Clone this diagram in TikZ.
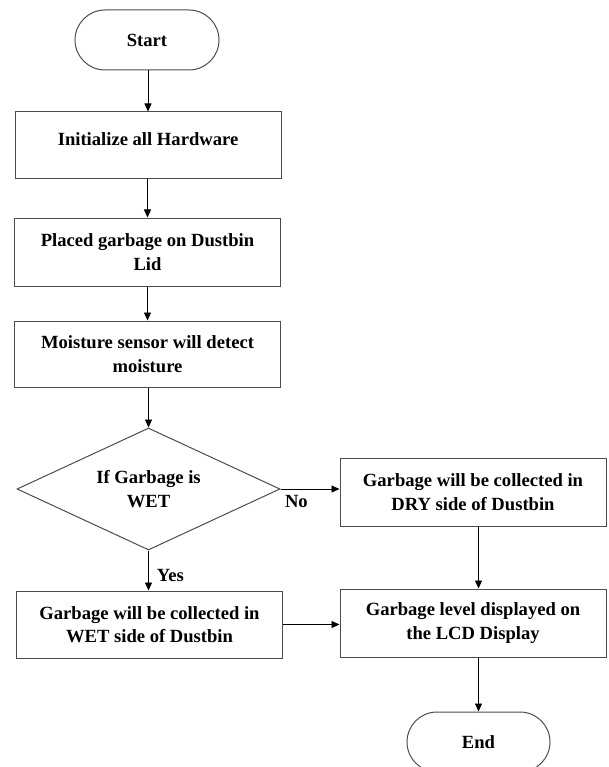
\documentclass[tikz,border=0pt]{standalone}
\usepackage{fontspec}
\setmainfont{Liberation Serif}
\usetikzlibrary{arrows.meta,positioning,shapes.geometric,shapes.misc}

\begin{document}
\begin{tikzpicture}[x=1pt,y=-1pt,>={Triangle[length=8pt,width=7pt]},
    every node/.style={font=\fontsize{18.6}{23.5}\selectfont\bfseries,align=center},
    procbox/.style={draw=black!70,line width=1pt,minimum width=266pt,minimum height=67pt,inner sep=0pt},
    termbox/.style={draw=black!70,line width=1pt,rounded rectangle,minimum width=144pt,minimum height=60pt,inner sep=0pt},
    decbox/.style={draw=black!70,line width=1pt,diamond,aspect=2.2,minimum width=263pt,minimum height=122pt,inner sep=0pt},
    flow/.style={->,line width=0.8pt}]
    \useasboundingbox (0,0) rectangle (608,767);
    % left column
    \node[termbox] (start) at (147,40) {Start};
    \node[procbox,text depth=13pt] (init) at (148,145.5) {Initialize all Hardware};
    \node[procbox,minimum height=68pt] (placed) at (147.5,252) {Placed garbage on Dustbin\\Lid};
    \node[procbox,minimum height=66pt] (moist) at (147.5,354) {Moisture sensor will detect\\moisture};
    \node[decbox] (dec) at (148.5,489) {If Garbage is\\WET};
    \node[procbox] (wet) at (149.5,624.5) {Garbage will be collected in\\WET side of Dustbin};
    % right column
    \node[procbox,minimum height=68pt] (dry) at (473,492) {Garbage will be collected in\\DRY side of Dustbin};
    \node[procbox,minimum height=68pt] (lcd) at (473,623) {Garbage level displayed on\\the LCD Display};
    \node[termbox,minimum width=143pt] (end) at (478.5,742) {End};
    % connectors
    \draw[flow] (start.south -| init.north) -- (init.north);
    \draw[flow] (init.south -| placed.north) -- (placed.north);
    \draw[flow] (placed.south) -- (moist.north);
    \draw[flow] (moist.south -| dec.north) -- (dec.north);
    \draw[flow] (dec.east) -- (dec.east -| dry.west) node[pos=0.27,anchor=north,inner sep=6pt]{No};
    \draw[flow] (dec.south) -- (dec.south |- wet.north) node[pos=0.62,anchor=west,inner sep=6pt,xshift=2pt]{Yes};
    \draw[flow] (dry.south -| end.north) -- (lcd.north -| end.north);
    \draw[flow] (wet.east) -- (wet.east -| lcd.west);
    \draw[flow] (lcd.south -| end.north) -- (end.north);
\end{tikzpicture}
\end{document}
